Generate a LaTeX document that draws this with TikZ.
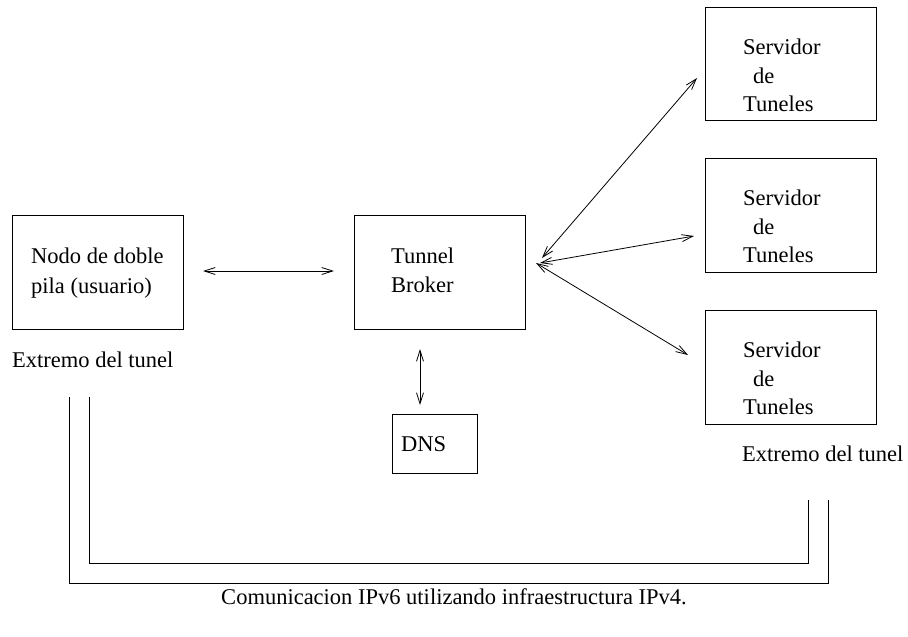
\documentclass[tikz,border=0pt]{standalone}
\usepackage{fontspec}
\setmainfont{Liberation Serif}
\usetikzlibrary{arrows.meta}
\begin{document}
\begin{tikzpicture}[x=1pt,y=-1pt,
  every node/.style={font=\fontsize{22.5}{27}\selectfont},
  box/.style={draw,line width=0.9pt,inner sep=0pt,anchor=north west},
  txt/.style={inner sep=0pt,anchor=base west},
  link/.style={line width=0.8pt,{Straight Barb[length=11pt,width=7pt]}-{Straight Barb[length=11pt,width=7pt]}},
  pipe/.style={line width=0.9pt}]
\useasboundingbox (0,0) rectangle (908,637);

% boxes
\node[box,minimum width=171pt,minimum height=114pt] (nodo) at (12,215) {};
\node[box,minimum width=171pt,minimum height=114pt] (broker) at (354,215) {};
\node[box,minimum width=85pt,minimum height=59pt] (dns) at (392,414) {};
\node[box,minimum width=171pt,minimum height=113pt] (srv1) at (705,7) {};
\node[box,minimum width=171pt,minimum height=114pt] (srv2) at (705,158) {};
\node[box,minimum width=171pt,minimum height=114pt] (srv3) at (705,310) {};

% box texts
\node[txt] (t1) at (31,263) {Nodo de doble};
\node[txt] (t2) at (31,293) {pila (usuario)};
\node[txt] (t3) at (391,263) {Tunnel};
\node[txt] (t4) at (391,292) {Broker};
\node[txt] (t5) at (401,451) {DNS};
\foreach \i/\dy in {1/0,2/151,3/303}{
  \node[txt] (sa\i) at (743,54+\dy) {Servidor};
  \node[txt] (sb\i) at (753,83+\dy) {de};
  \node[txt] (sc\i) at (743,111+\dy) {Tuneles};
}
\node[txt] (ext1) at (12,367) {Extremo del tunel};
\node[txt] (ext2) at (742,461) {Extremo del tunel};
\node[inner sep=0pt,anchor=base] (cap) at (454,604) {Comunicacion IPv6 utilizando infraestructura IPv4.};

% connector ends
\coordinate (a1) at (203,271);
\coordinate (a2) at (334,271);
\coordinate (d1) at (420,349);
\coordinate (d2) at (420,405);
\coordinate (h1) at (542,258);
\coordinate (h2) at (540,263);
\coordinate (h3) at (536,263);
\coordinate (e1) at (697,78);
\coordinate (e2) at (694,236);
\coordinate (e3) at (688,355);

\draw[link] (a1) -- (a2);
\draw[link] (d1) -- (d2);
\draw[link] (h1) -- (e1);
\draw[link] (h2) -- (e2);
\draw[link] (h3) -- (e3);

% tunnel pipe between both ends
\coordinate (p1) at (69,397);
\coordinate (p2) at (69,583);
\coordinate (p3) at (828,583);
\coordinate (p4) at (828,500);
\coordinate (q1) at (89,397);
\coordinate (q2) at (89,563);
\coordinate (q3) at (808,563);
\coordinate (q4) at (808,500);
\draw[pipe] (p1) -- (p2) -- (p3) -- (p4);
\draw[pipe] (q1) -- (q2) -- (q3) -- (q4);
\end{tikzpicture}
\end{document}
